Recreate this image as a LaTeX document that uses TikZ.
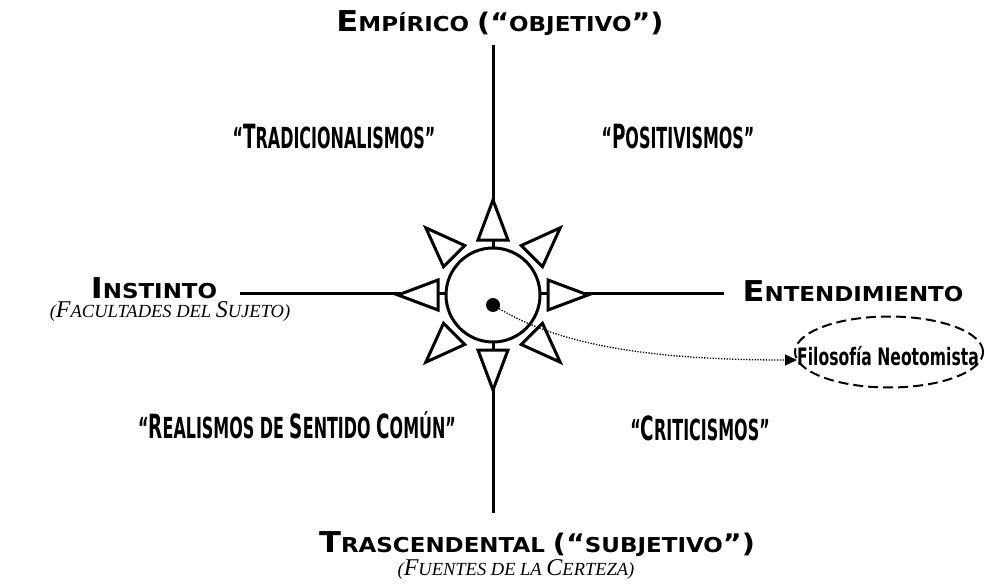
\documentclass[tikz,border=0pt]{standalone}
\usepackage{fontspec}
\setmainfont{DejaVu Sans}
\newfontfamily\headfont[FakeStretch=1.12]{DejaVu Sans}
\newfontfamily\condfont[FakeStretch=0.55]{DejaVu Sans}
\newfontfamily\ovalfont[FakeStretch=0.65]{DejaVu Sans}
\newfontfamily\garfont{Liberation Serif}
\usetikzlibrary{arrows.meta, positioning, shapes.geometric}
\newcommand\Ini[2][1.4]{\scalebox{#1}{#2}}

\begin{document}
\begin{tikzpicture}[
    x=1pt, y=-1pt,
    axisline/.style={line width=3},
    ray/.style={line width=3, fill=white, line join=miter},
    headlbl/.style={font=\headfont\bfseries\fontsize{20.5}{20.5}\selectfont, inner sep=0},
    quotelbl/.style={font=\condfont\bfseries\fontsize{29}{29}\selectfont, inner sep=0},
    sublbl/.style={font=\garfont\itshape\fontsize{18.5}{18.5}\selectfont, inner sep=0},
    arrow/.style={line width=1.3, dash pattern=on 1.3pt off 1.5pt, -{Triangle[length=12,width=11]}}
]
    \useasboundingbox (0,0) rectangle (985,588);
    % ejes
    \coordinate (n) at (493,45);
    \coordinate (s) at (493,513);
    \coordinate (w) at (240,293);
    \coordinate (e) at (724,293);
    \coordinate (c) at (493,295);
    \draw[axisline] (n) -- (s);
    \draw[axisline] (w) -- (e);
    % rosa
    \foreach \a in {0,45,...,315}
        \draw[ray, shift={(c)}, rotate=\a] (55,-15) -- (95,0) -- (55,15) -- cycle;
    \node[circle, draw, line width=3, fill=white, minimum size=94] (hub) at (c) {};
    \node[circle, fill, inner sep=0, minimum size=14] (dot) at (493,305) {};
    % extremos
    \node[headlbl] (emp) at (500,23) {\Ini{E}MPÍRICO \Ini[1.25]{(“}OBJETIVO\Ini[1.25]{”)}};
    \node[headlbl] (tras) at (537,544) {\Ini{T}RASCENDENTAL \Ini[1.25]{(“}SUBJETIVO\Ini[1.25]{”)}};
    \node[headlbl] (inst) at (154,288) {\Ini{I}NSTINTO};
    \node[headlbl] (ent) at (853,291) {\Ini{E}NTENDIMIENTO};
    \node[sublbl] (fac) at (170,312) {(\Ini[1.3]{F}ACULTADES DEL \Ini[1.3]{S}UJETO)};
    \node[sublbl] (fue) at (516,570) {(\Ini[1.3]{F}UENTES DE LA \Ini[1.3]{C}ERTEZA)};
    % cuadrantes
    \node[quotelbl] (trad) at (334,137) {“\Ini[1.15]{T}RADICIONALISMOS”};
    \node[quotelbl] (pos) at (678,137) {“\Ini[1.15]{P}OSITIVISMOS”};
    \node[quotelbl] (real) at (297,425) {“\Ini[1.15]{R}EALISMOS DE \Ini[1.15]{S}ENTIDO \Ini[1.15]{C}OMÚN”};
    \node[quotelbl] (crit) at (700,428) {“\Ini[1.15]{C}RITICISMOS”};
    % neotomismo
    \node[ellipse, draw, line width=2, dash pattern=on 10pt off 5pt, minimum width=188, minimum height=71,
          inner sep=0] (neo) at (889,352) {};
    \node[font=\ovalfont\bfseries\fontsize{24}{24}\selectfont, inner sep=0] (neotxt) at (888,356) {Filosofía Neotomista};
    \draw[arrow] (dot) .. controls (560,345) and (650,360) .. (797,360);
\end{tikzpicture}
\end{document}
